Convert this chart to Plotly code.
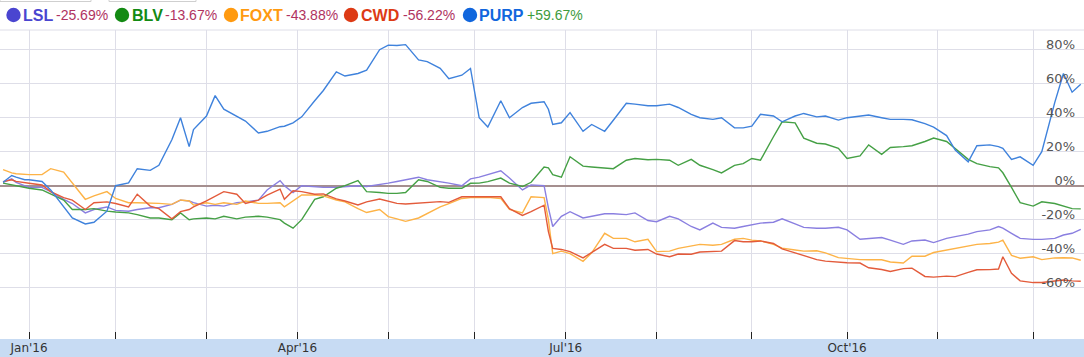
import plotly.graph_objects as go

# ---------------- data (percent change since start) ----------------
dates = [
    "2015-12-22", "2015-12-24", "2015-12-29", "2015-12-31",
    "2016-01-04", "2016-01-07", "2016-01-11", "2016-01-14", "2016-01-18", "2016-01-21", "2016-01-25", "2016-01-28",
    "2016-02-01", "2016-02-04", "2016-02-08", "2016-02-11", "2016-02-15", "2016-02-18", "2016-02-22", "2016-02-24", "2016-02-25",
    "2016-03-01", "2016-03-03", "2016-03-07", "2016-03-10", "2016-03-14", "2016-03-17", "2016-03-21", "2016-03-24", "2016-03-29", "2016-03-31",
    "2016-04-04", "2016-04-07", "2016-04-11", "2016-04-14", "2016-04-18", "2016-04-21", "2016-04-25", "2016-04-28",
    "2016-05-03", "2016-05-05", "2016-05-09", "2016-05-12", "2016-05-16", "2016-05-19", "2016-05-23", "2016-05-26", "2016-05-31",
    "2016-06-02", "2016-06-06", "2016-06-09", "2016-06-13", "2016-06-16", "2016-06-20", "2016-06-23", "2016-06-24", "2016-06-27", "2016-06-30",
    "2016-07-04", "2016-07-07", "2016-07-11", "2016-07-14", "2016-07-18", "2016-07-21", "2016-07-25", "2016-07-28",
    "2016-08-01", "2016-08-04", "2016-08-08", "2016-08-11", "2016-08-15", "2016-08-18", "2016-08-22", "2016-08-25", "2016-08-30",
    "2016-09-01", "2016-09-05", "2016-09-08", "2016-09-12", "2016-09-15", "2016-09-19", "2016-09-22", "2016-09-26", "2016-09-29",
    "2016-10-03", "2016-10-06", "2016-10-10", "2016-10-13", "2016-10-17", "2016-10-20", "2016-10-24", "2016-10-27", "2016-10-31",
    "2016-11-03", "2016-11-07", "2016-11-10", "2016-11-14", "2016-11-17", "2016-11-21", "2016-11-22", "2016-11-24", "2016-11-28",
    "2016-12-01", "2016-12-05", "2016-12-08", "2016-12-12", "2016-12-14", "2016-12-16",
]

purp = [
    2, 6, 5, 3.5,
    3.5, 2.5, -2.5, -12, -19, -22.5, -21.5, -15,
    0, 1.6, 10, 9, 12, 27, 40, 23, 33,
    41, 53, 45, 41, 38, 31, 32, 34.7, 35, 37,
    40.5, 50, 56, 67, 64.5, 66, 68, 80,
    82.7, 82.5, 83, 74, 73, 69, 63, 65, 69,
    40, 34.5, 50, 40, 46, 48.5, 49.4, 45, 36, 37,
    43, 32, 36, 32, 38.5, 48.5, 48, 47,
    47, 48, 46, 42, 40, 39, 40, 34, 34,
    35, 42, 41, 37.6, 41, 42.5, 40.5, 41, 38.6,
    40, 41, 41.6, 40, 39, 39, 38.8, 36.5, 34.5,
    29.5, 21, 14, 23.5, 24, 23, 22, 15.5, 17,
    12, 20, 49, 66, 55, 59.67,
]

lsl = [
    2, 4, 2, 0,
    -1, -1, -3.5, -8, -10.5, -16, -14, -12.5,
    -14.5, -15, -14, -13, -13, -11, -8.5, -9, -10,
    -12, -11.5, -12, -10, -9.5, -8.5, -2.5, 3, 0, -4,
    0, -0.5, -1, -1, -0.5, 0, -0.5, 0.5,
    1.5, 2.5, 3.5, 5, 3.5, 2.5, 1.5, 0, 4,
    5, 6.5, 8.8, 4.5, -2.5, 0.5, 0, -13, -24, -18,
    -15.3, -19, -18, -16.5, -16.5, -17, -16, -20.5,
    -21.2, -18, -19.5, -24, -26, -22, -24.5, -25, -24,
    -23, -22, -21.5, -19.5, -22.5, -24.5, -25, -25, -24.5,
    -26, -31.5, -31, -30.5, -32, -34.5, -32.5, -32, -33.5,
    -31, -30, -28.5, -27, -26, -24, -25, -28, -31,
    -31.6, -31.6, -31, -29, -28, -25.69,
]

blv = [
    1.5, 0.5, 0, -1,
    -1.5, -2.5, -5, -8.5, -14, -14, -13.5, -15,
    -15.5, -16, -17, -19, -19, -20, -16, -20, -19.5,
    -19, -19.5, -18, -19.5, -18.5, -18, -18.5, -20, -22, -25,
    -20, -8, -6.5, -1.5, 0, 3, -3.5, -4,
    -4.5, -4.5, -4, 3.5, 2.5, -1, -1.5, -1.5, 1.4,
    1.5, 2.4, 4.5, 1.5, -0.5, 2, 11, 10.5, 6.5, 5,
    17, 11.5, 11, 10.5, 10, 15, 16, 15.3,
    15.5, 15, 12, 15.5, 12, 9.5, 7.5, 12, 13,
    16, 15, 28.8, 37.6, 37, 28, 25, 24.5, 22,
    16, 17.5, 24, 18.5, 22.5, 23, 23.5, 26, 28,
    26, 22, 15.5, 13, 11.2, 10.5, 7.6, -1, -10,
    -12, -9.5, -10.5, -12, -13.5, -13.67,
]

foxt = [
    9.5, 7.5, 7, 6.5,
    6.5, 6.5, 10, 8, 1.6, -8, -6, -3.5,
    -7.5, -10, -10, -10, -10.4, -11, -8.4, -9, -11.4,
    -10, -11, -10, -11, -9, -10.4, -10.4, -10, -12.4, -9,
    -5.5, -5.5, -6, -8.4, -9.5, -13.5, -15.8, -14,
    -18.2, -19.5, -21, -19, -16.3, -12.4, -10.5, -7.5, -7,
    -6.9, -6.9, -7.5, -14, -16, -6.5, -7, -20, -40, -38.5,
    -40, -44.5, -39.5, -28, -31, -31, -33, -31.5,
    -38.8, -38.5, -36.9, -35.5, -34.5, -35, -34.5, -31.5, -31,
    -32, -32.5, -34.5, -36.7, -37.8, -38.5, -38.3, -39.5, -42.3,
    -42.9, -43.5, -43.6, -43.6, -44.9, -45.5, -41.5, -41.5, -39.3,
    -37.9, -36.7, -35.5, -34.5, -34, -33.2, -32, -41, -42.7,
    -41.8, -43.5, -42.5, -42.4, -42.5, -43.88,
]

cwd = [
    2.4, 3.5, 2.5, 1.5,
    1.4, 0.4, -3.5, -7, -8.5, -14, -10, -9.5,
    -10.5, -12.5, -5, -12, -13.5, -19.5, -15.3, -14, -12.5,
    -9, -6, -3.5, -5, -10.4, -8.5, -5.5, -2, -8, -3,
    -3.5, -5, -4.8, -7.8, -9, -11.3, -9.5, -7.8,
    -9.2, -10.4, -10.8, -10.4, -10, -9.4, -9.8, -6.5, -6.5,
    -6.5, -6.5, -6.5, -13.5, -17.5, -15.3, -11.5, -27, -36.9, -37.5,
    -38.8, -42.5, -39.5, -34.5, -36.9, -36.9, -38, -37.5,
    -40.2, -41.8, -40.2, -40.3, -39, -38.8, -38.5, -32.3, -33,
    -33, -32.5, -34, -37.2, -39.5, -41.2, -43.5, -44.4, -45,
    -45.3, -45.5, -48.3, -49.3, -50.5, -48.8, -48.5, -53.4, -53.8,
    -53.2, -53.5, -51, -49.5, -49.4, -49, -41.8, -51.5, -56,
    -57, -57, -56.3, -55.5, -56, -56.22,
]

names = ["LSL", "BLV", "FOXT", "CWD", "PURP"]
changes = ["-25.69%", "-13.67%", "-43.88%", "-56.22%", "+59.67%"]

month_ticks = ["2016-01-04", "2016-02-01", "2016-03-01", "2016-04-01", "2016-05-03", "2016-06-01",
               "2016-07-01", "2016-08-01", "2016-09-01", "2016-10-03", "2016-11-01", "2016-12-01"]
month_labels = ["Jan'16", "", "", "Apr'16", "", "", "Jul'16", "", "", "Oct'16", "", ""]
y_ticks = [-60, -40, -20, 0, 20, 40, 60, 80]
y_labels = ["-60%", "-40%", "-20%", "0%", "20%", "40%", "60%", "80%"]
holidays = ["2015-12-25", "2015-12-28", "2016-01-01", "2016-03-25", "2016-03-28",
            "2016-05-02", "2016-05-30", "2016-06-29", "2016-08-29"]

# ---------------- styling ----------------
W, H = 1084, 357
TOP, BOTTOM = 30, 18
PH = H - TOP - BOTTOM
line_colors = ["#8a7fe0", "#45a045", "#fdb347", "#e35b3b", "#3f82dc"]
dot_colors = ["#4a45d0", "#138a13", "#ff9a10", "#dd3a15", "#1166dd"]
grid = "#dedee8"
FONT = "Arial, Liberation Sans, sans-serif"
AXFONT = "DejaVu Sans, Verdana, sans-serif"


def py(px_y):
    return (H - BOTTOM - px_y) / PH


def px(px_x):
    return px_x / W


fig = go.Figure()
for vals, col, nm in zip([lsl, blv, foxt, cwd, purp], line_colors, names):
    fig.add_trace(go.Scatter(x=dates, y=vals, mode="lines", name=nm,
                             line=dict(color=col, width=1.4), hoverinfo="skip"))

shapes = [
    # x-axis band
    dict(type="rect", xref="paper", yref="paper", x0=0, x1=1, y0=py(H), y1=py(H - BOTTOM),
         fillcolor="#c7dbf3", line=dict(width=0), layer="below"),
    # plot top border
    dict(type="line", xref="paper", yref="paper", x0=0, x1=1, y0=1, y1=1,
         line=dict(color=grid, width=1)),
    # cut-off boxes at the very top
    dict(type="rect", xref="paper", yref="paper", x0=px(0), x1=px(91), y0=py(1.5), y1=py(-6),
         line=dict(color="#cfcfcf", width=1), fillcolor="rgba(0,0,0,0)"),
    dict(type="rect", xref="paper", yref="paper", x0=px(109), x1=px(196), y0=py(1.5), y1=py(-6),
         line=dict(color="#cfcfcf", width=1), fillcolor="rgba(0,0,0,0)"),
]

annotations = []
dot_x = [13.5, 122, 231, 351, 470]
name_x = [21, 130, 238, 359, 477]
chg_x = [54, 163, 284, 401, 525]
LEG_Y = 15
for i in range(5):
    shapes.append(dict(type="circle", xref="paper", yref="paper",
                       xsizemode="pixel", ysizemode="pixel",
                       xanchor=px(dot_x[i]), yanchor=py(LEG_Y),
                       x0=-7.2, x1=7.2, y0=-7.2, y1=7.2,
                       fillcolor=dot_colors[i], line=dict(width=0)))
    annotations.append(dict(xref="paper", yref="paper", x=px(name_x[i]), y=py(LEG_Y),
                            xanchor="left", yanchor="middle", showarrow=False,
                            text="<b>%s</b>" % names[i],
                            font=dict(family=FONT, size=16, color=dot_colors[i])))
    pos = changes[i].startswith("+")
    annotations.append(dict(xref="paper", yref="paper", x=px(chg_x[i]), y=py(LEG_Y + 0.5),
                            xanchor="left", yanchor="middle", showarrow=False,
                            text=changes[i],
                            font=dict(family=FONT, size=14,
                                      color="#3d9b3d" if pos else "#b0335f")))

fig.update_layout(
    width=W, height=H,
    margin=dict(l=0, r=0, t=TOP, b=BOTTOM, pad=0),
    paper_bgcolor="white", plot_bgcolor="white",
    showlegend=False,
    font=dict(family=FONT),
    shapes=shapes,
    annotations=annotations,
    xaxis=dict(
        type="date",
        range=["2015-12-21 07:00", "2016-12-16 18:00"],
        rangebreaks=[dict(bounds=["sat", "mon"]), dict(values=holidays)],
        tickmode="array", tickvals=month_ticks, ticktext=month_labels,
        showgrid=True, gridcolor=grid, gridwidth=1,
        ticks="inside", ticklen=7, tickcolor="#222", tickwidth=1,
        tickfont=dict(family=AXFONT, size=12, color="#333"),
        showline=False, zeroline=False, fixedrange=True,
    ),
    yaxis=dict(
        side="right", range=[-90.2, 91.6],
        tickmode="array", tickvals=y_ticks, ticktext=y_labels,
        ticklabelposition="inside", ticklabelstandoff=6, ticklabelshift=-5,
        showgrid=True, gridcolor=grid, gridwidth=1,
        zeroline=True, zerolinecolor="#a58f8f", zerolinewidth=2,
        tickfont=dict(family=AXFONT, size=13, color="#555"),
        showline=False, ticks="", fixedrange=True,
    ),
)

fig.write_html("out.html", config={"displayModeBar": False},
               post_script="document.body.style.margin='0px';document.body.style.overflow='hidden';")
